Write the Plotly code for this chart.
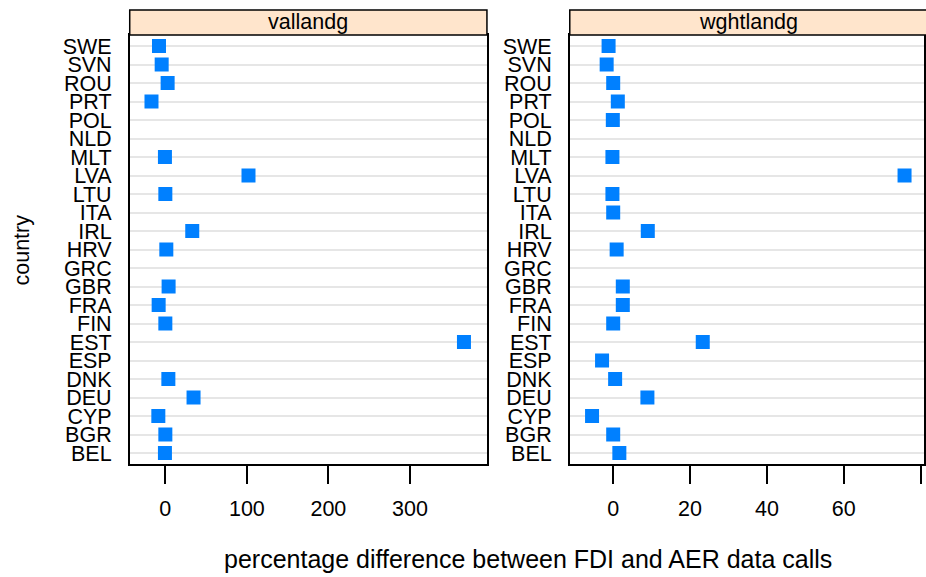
import plotly.graph_objects as go

countries = ["BEL", "BGR", "CYP", "DEU", "DNK", "ESP", "EST", "FIN", "FRA", "GBR",
             "GRC", "HRV", "IRL", "ITA", "LTU", "LVA", "MLT", "NLD", "POL", "PRT",
             "ROU", "SVN", "SWE"]
vallandg = [-0.5, 0, -8.6, 34.6, 3.7, None, 366.3, 0, -8.2, 4,
            None, 1.2, 33, None, 0, 102, -0.5, None, None, -17,
            2.8, -4.5, -7.8]
wghtlandg = [1.6, 0, -5.5, 8.9, 0.5, -2.9, 23.3, 0, 2.5, 2.5,
             None, 0.9, 9.0, 0, -0.2, 75.8, -0.2, None, -0.1, 1.2,
             0, -1.7, -1.2]
panels = ["vallandg", "wghtlandg"]
x1_ticks = [0, 100, 200, 300]
x2_ticks = [0, 20, 40, 60, 80]
x2_ticktext = ["0", "20", "40", "60", ""]

W, H = 926, 577
FONT = "Liberation Sans, Arial, sans-serif"
BLUE = "#0080ff"
FS = 21.5

def px(v):
    return v / W

def py(v):
    return (H - v) / H

fig = go.Figure()
fig.add_trace(go.Scatter(x=vallandg, y=countries, mode="markers", xaxis="x", yaxis="y",
                         marker=dict(symbol="square", size=14, color=BLUE, line=dict(width=0)),
                         showlegend=False))
fig.add_trace(go.Scatter(x=wghtlandg, y=countries, mode="markers", xaxis="x2", yaxis="y2",
                         marker=dict(symbol="square", size=14, color=BLUE, line=dict(width=0)),
                         showlegend=False))

xl = [130, 488]
xr = [571, 926]
ytop, ybot = 35, 465

common_x = dict(showgrid=False, zeroline=False, showline=True, linecolor="black", linewidth=1.5,
                mirror=True, ticks="outside", ticklen=18, tickwidth=1.5, tickcolor="black",
                tickfont=dict(size=FS, color="black", family=FONT), ticklabelstandoff=6)
common_y = dict(type="category", categoryorder="array", categoryarray=countries,
                tickmode="array", tickvals=countries, ticktext=countries,
                range=[-0.6, len(countries) - 0.4], showgrid=True, gridcolor="#e6e6e6",
                gridwidth=1.5, zeroline=False, showline=True, linecolor="black", linewidth=1.5,
                mirror=True, ticks="", ticklabelstandoff=12,
                tickfont=dict(size=FS, color="black", family=FONT), domain=[py(ybot), py(ytop)])

fig.update_layout(
    width=W, height=H, margin=dict(l=0, r=0, t=0, b=0),
    paper_bgcolor="white", plot_bgcolor="white",
    font=dict(family=FONT, color="black"),
    xaxis=dict(domain=[px(xl[0]), px(xl[1])], range=[-43.7, 394.5],
               tickvals=x1_ticks, anchor="y", **common_x),
    yaxis=dict(anchor="x", **common_y),
    xaxis2=dict(domain=[px(xr[0]), 1.0], range=[-11.3, 80.86],
                tickvals=x2_ticks, ticktext=x2_ticktext, anchor="y2", **common_x),
    yaxis2=dict(anchor="x2", **common_y),
)

# strips
for (x0, x1), name in zip([xl, [xr[0], 930]], panels):
    fig.add_shape(type="rect", xref="paper", yref="paper", x0=px(x0), x1=px(x1),
                  y0=py(ytop), y1=py(10), fillcolor="#ffe5cc",
                  line=dict(color="black", width=1.5), layer="above")
    fig.add_annotation(xref="paper", yref="paper", x=px((x0 + x1) / 2), y=py(22.5),
                       text=name, showarrow=False, font=dict(size=FS, color="black", family=FONT),
                       xanchor="center", yanchor="middle")

fig.add_annotation(xref="paper", yref="paper", x=px(22), y=py(250), text="country", textangle=-90,
                   showarrow=False, font=dict(size=FS, color="black", family=FONT),
                   xanchor="center", yanchor="middle")
fig.add_annotation(xref="paper", yref="paper", x=px(529), y=py(560),
                   text="percentage difference between FDI and AER data calls",
                   showarrow=False, font=dict(size=25, color="black", family=FONT),
                   xanchor="center", yanchor="middle")

fig.write_html("out.html")
